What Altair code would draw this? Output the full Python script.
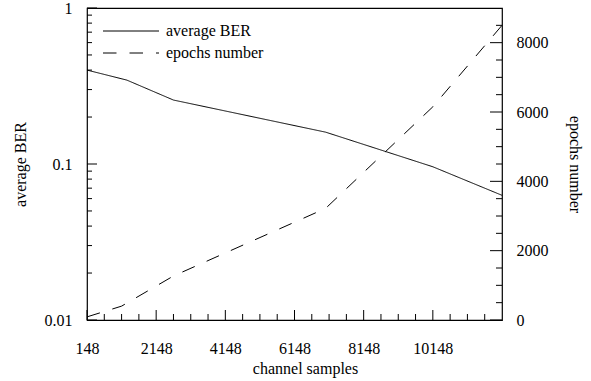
import altair as alt
import pandas as pd

# ---- data ----
ber_samples = [148, 1300, 2648, 7048, 10148, 12148]
ber_values = [0.40, 0.345, 0.257, 0.160, 0.096, 0.063]

epoch_samples = [148, 1148, 2648, 7048, 10148, 12148]
epoch_values = [90, 400, 1270, 3220, 6150, 8500]

x_major = [148, 2148, 4148, 6148, 8148, 10148]
x_minor = [648, 1148, 1648, 2648, 3148, 3648, 4648, 5148, 5648, 6648, 7148, 7648,
           8648, 9148, 9648, 10648, 11148, 11648]
left_major = [0.01, 0.1, 1]
left_minor = [0.02, 0.03, 0.04, 0.05, 0.06, 0.07, 0.08, 0.09,
              0.2, 0.3, 0.4, 0.5, 0.6, 0.7, 0.8, 0.9]
right_major = [0, 2000, 4000, 6000, 8000]
right_minor = [500, 1000, 1500, 2500, 3000, 3500, 4500, 5000, 5500,
               6500, 7000, 7500, 8500]
series_names = ["average BER", "epochs number"]
x_lo, x_hi = 148, 12148
ber_lo, ber_hi = 0.01, 1
ep_lo, ep_hi = 0, 9000

W, H = 415, 312

ber_df = pd.DataFrame({"samples": ber_samples, "value": ber_values, "series": series_names[0]})
ep_df = pd.DataFrame({"samples": epoch_samples, "value": epoch_values, "series": series_names[1]})

FONT = "'Liberation Serif', 'Times New Roman', Times, serif"
xscale = alt.Scale(domain=[x_lo, x_hi], nice=False, zero=False)
lscale = alt.Scale(type="log", domain=[ber_lo, ber_hi], nice=False)
rscale = alt.Scale(domain=[ep_lo, ep_hi], nice=False, zero=True)

dash = alt.StrokeDash(
    "series:N",
    scale=alt.Scale(domain=series_names, range=[[1, 0], [13.5, 13]]),
    legend=alt.Legend(
        orient="none", legendX=36, legendY=15, title=None, padding=0,
        symbolType="M-4,0H4", symbolSize=196, symbolStrokeWidth=1,
        symbolStrokeColor="black", labelFont=FONT, labelFontSize=16,
        labelColor="black", labelOffset=27, rowPadding=6,
    ),
)

AX = dict(ticks=False, domain=False, labelFlush=False, labelOverlap=False, grid=False)

ber = alt.Chart(ber_df).mark_line(color="black", strokeWidth=1).encode(
    x=alt.X("samples:Q", scale=xscale, axis=alt.Axis(
        values=x_major, format="d", labelPadding=20,
        title="channel samples", titleX=218, titleY=53,
        titleAlign="center", titleBaseline="alphabetic", **AX)),
    y=alt.Y("value:Q", scale=lscale, axis=alt.Axis(
        orient="left", values=left_major, format="~g", labelPadding=15,
        title="average BER", titleX=-61.5, titleY=156, titleAngle=270,
        titleAlign="center", titleBaseline="alphabetic", **AX)),
    strokeDash=dash,
)

ep = alt.Chart(ep_df).mark_line(color="black", strokeWidth=1).encode(
    x=alt.X("samples:Q", scale=xscale, axis=None),
    y=alt.Y("value:Q", scale=rscale, axis=alt.Axis(
        orient="right", values=right_major, format="d", labelPadding=14,
        title="epochs number", titleX=67.5, titleY=156, titleAngle=90,
        titleAlign="center", titleBaseline="alphabetic", **AX)),
    strokeDash=dash,
)


# inward tick marks, positioned along each axis through the chart's scales
def xticks(vals, length):
    return alt.Chart(pd.DataFrame({"t": vals})).mark_rule(
        color="black", strokeWidth=1, y2Offset=-length
    ).encode(
        x=alt.X("t:Q", scale=xscale, axis=None),
        y=alt.YDatum(ber_lo, type="quantitative", scale=lscale, axis=None),
        y2=alt.Y2Datum(ber_lo),
    )


def yticks(vals, scale, at_left, length):
    x0 = 0 if at_left else W
    x1 = length if at_left else W - length
    return alt.Chart(pd.DataFrame({"t": vals})).mark_rule(
        color="black", strokeWidth=1
    ).encode(
        y=alt.Y("t:Q", scale=scale, axis=None),
        x=alt.value(x0),
        x2=alt.value(x1),
    )


layers = [
    ber, ep,
    xticks(x_major, 10), xticks(x_minor, 6),
    yticks(left_major, lscale, True, 10), yticks(left_minor, lscale, True, 5),
    yticks(right_major, rscale, False, 12), yticks(right_minor, rscale, False, 6),
]

chart = alt.layer(*layers).resolve_scale(
    y="independent"
).resolve_axis(
    x="independent", y="independent"
).properties(
    width=W, height=H,
    padding={"left": 87, "top": 8, "right": 89, "bottom": 61},
    autosize=alt.AutoSizeParams(type="none"),
    background="white",
).configure_view(
    stroke="black", strokeWidth=1.2
).configure_axis(
    labelFont=FONT, titleFont=FONT, labelFontSize=16, titleFontSize=16,
    labelColor="black", titleColor="black", titleFontWeight="normal",
)

chart.save("out.html", embed_options={"renderer": "svg", "actions": False})
